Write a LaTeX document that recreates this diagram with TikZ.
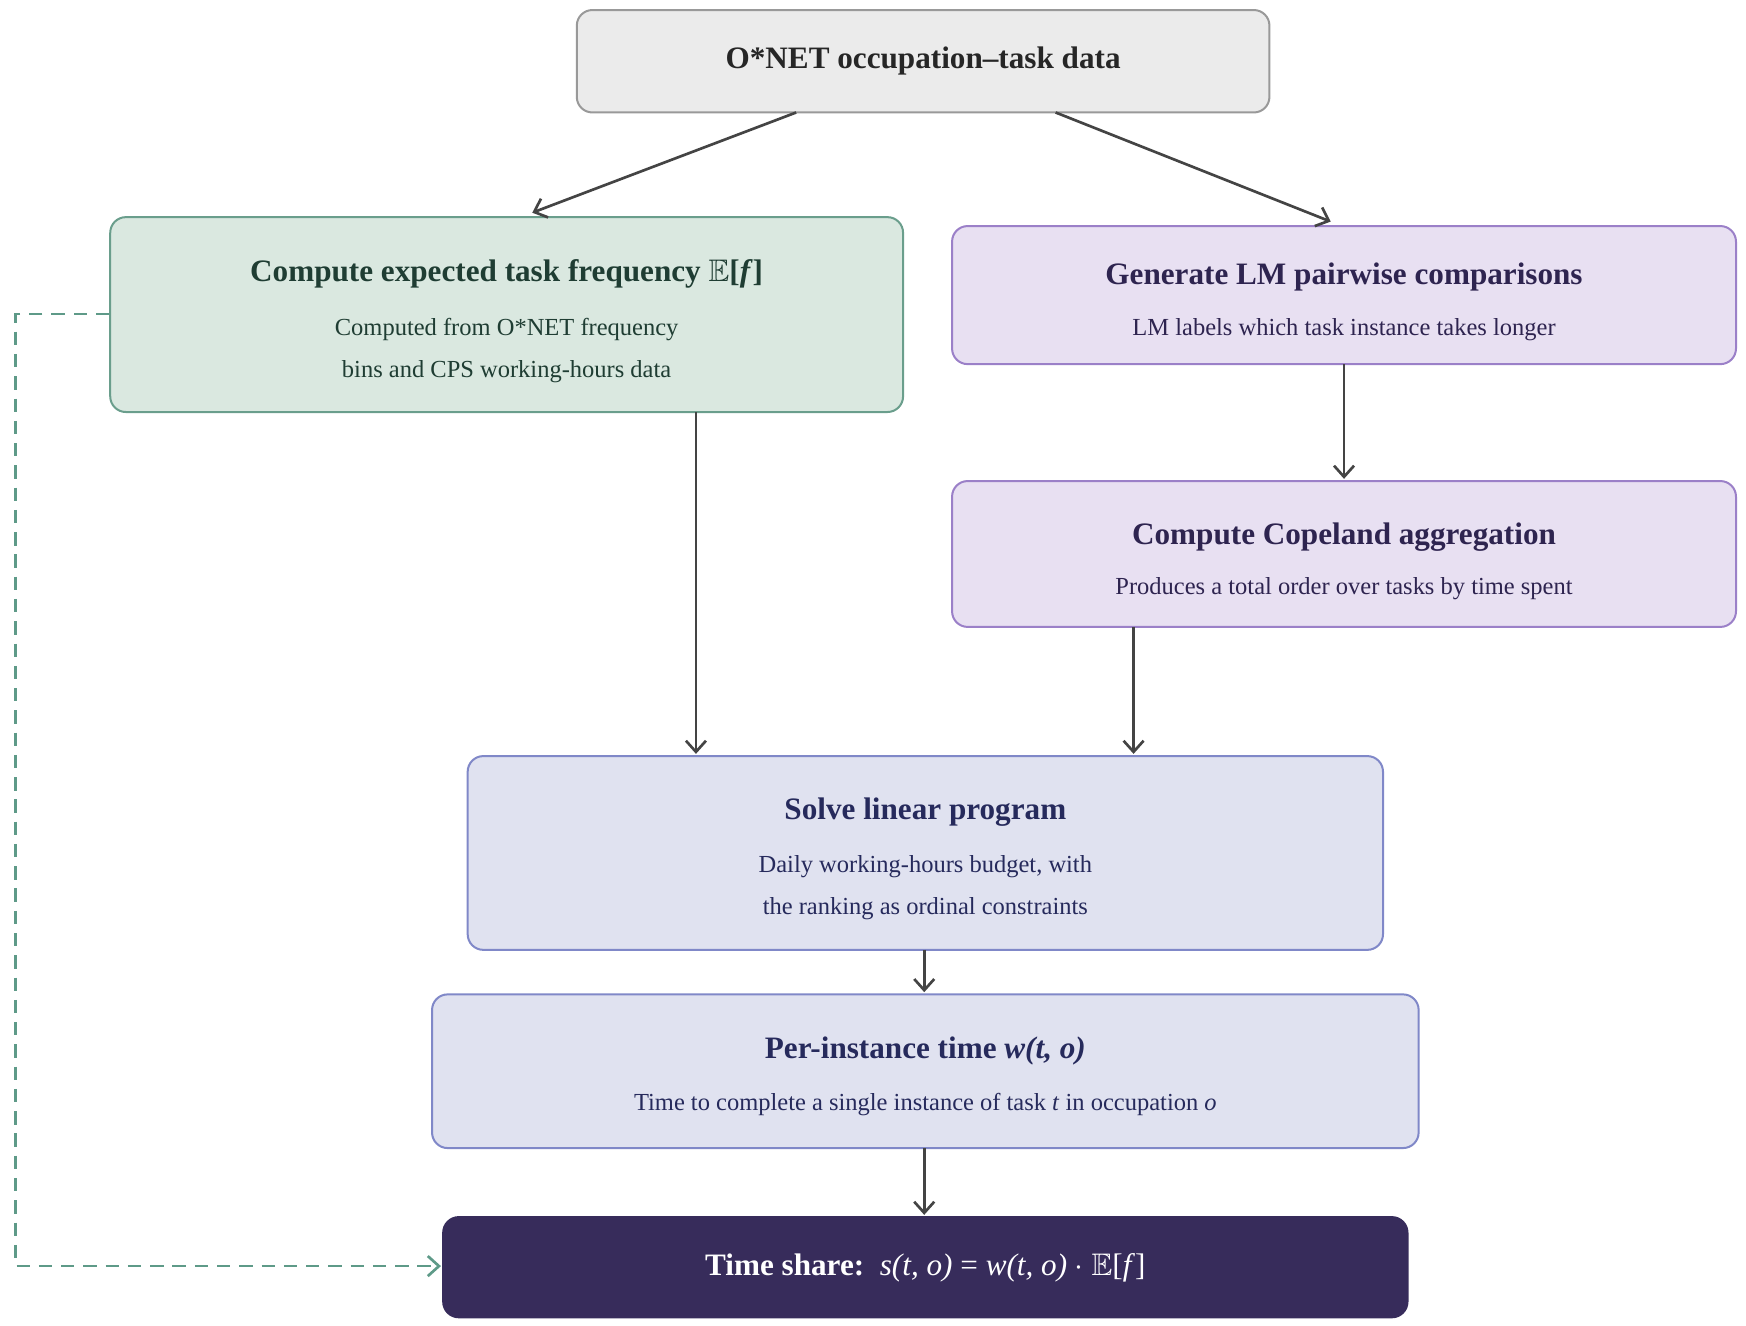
\documentclass[tikz,border=0pt]{standalone}
\usepackage{fontspec}
\setmainfont{Liberation Serif}
\usepackage{amssymb}
\usetikzlibrary{arrows.meta}
\definecolor{gfill}{HTML}{DAE8E0}\definecolor{gdraw}{HTML}{6A9E8C}\definecolor{gtext}{HTML}{1F3D33}
\definecolor{pfill}{HTML}{E8E0F2}\definecolor{pdraw}{HTML}{9B80C8}\definecolor{ptext}{HTML}{2E2450}
\definecolor{bfill}{HTML}{E0E2F0}\definecolor{bdraw}{HTML}{8088C8}\definecolor{btext}{HTML}{262A5C}
\definecolor{dark}{HTML}{372C5B}\definecolor{arr}{HTML}{444444}\definecolor{dashcol}{HTML}{5E9A88}
\tikzset{
 box/.style={rounded corners=7pt,line width=0.9pt,align=center,inner sep=0pt},
 ttl/.style={font=\fontsize{14}{17}\selectfont\bfseries},
 sub/.style={font=\fontsize{11}{19}\selectfont},
 ar/.style={-{Straight Barb[length=5pt,width=9pt]},line width=1.2pt,draw=arr},
}
\begin{document}
\begin{tikzpicture}[x=0.5pt,y=-0.5pt]
\useasboundingbox (0,0) rectangle (1568,1190);
\node[box,fill=black!8,draw=black!40,minimum width=311pt,minimum height=46pt] (top) at (829,55) {};
\node[ttl,text=black!85] at (top) {O*NET occupation–task data};
\node[box,fill=gfill,draw=gdraw,minimum width=356pt,minimum height=87.5pt] (g) at (455,282.5) {};
\node[ttl,text=gtext] at (455,246) {Compute expected task frequency $\mathbb{E}$[\textit{f}]};
\node[sub,text=gtext,align=center] at (455,315) {Computed from O*NET frequency\\bins and CPS working-hours data};
\node[box,fill=pfill,draw=pdraw,minimum width=352pt,minimum height=62pt] (p1) at (1207,265) {};
\node[ttl,text=ptext] at (1207,249) {Generate LM pairwise comparisons};
\node[sub,text=ptext] at (1207,296) {LM labels which task instance takes longer};
\node[box,fill=pfill,draw=pdraw,minimum width=352pt,minimum height=65.5pt] (p2) at (1207,497.5) {};
\node[ttl,text=ptext] at (1207,482) {Compute Copeland aggregation};
\node[sub,text=ptext] at (1207,529) {Produces a total order over tasks by time spent};
\node[box,fill=bfill,draw=bdraw,minimum width=411pt,minimum height=87pt] (lp) at (831,766) {};
\node[ttl,text=btext] at (831,729) {Solve linear program};
\node[sub,text=btext,align=center] at (831,797) {Daily working-hours budget, with\\the ranking as ordinal constraints};
\node[box,fill=bfill,draw=bdraw,minimum width=443pt,minimum height=69pt] (pi) at (831,962) {};
\node[ttl,text=btext] at (831,944) {Per-instance time \textit{w(t, o)}};
\node[sub,text=btext] at (831,992) {Time to complete a single instance of task \textit{t} in occupation \textit{o}};
\node[box,fill=dark,draw=dark,minimum width=433pt,minimum height=45pt] (ts) at (831,1138) {};
\node[ttl,text=white] at (831,1139) {Time share:\ \ \mdseries\textit{s(t, o)} = \textit{w(t, o)} $\cdot$ $\mathbb{E}$[\textit{f}]};
\draw[ar] (715,101) -- (478,191);
\draw[ar] (948,101) -- (1195,199);
\draw[ar] (625,370) -- (625,677);
\draw[ar] (1207,327) -- (1207,430);
\draw[ar] (1018,563) -- (1018,677);
\draw[ar] (830,853) -- (830,891);
\draw[ar] (830,1031) -- (830,1091);
\draw[draw=dashcol,line width=1.2pt,dash pattern=on 6pt off 4pt,-{Straight Barb[length=5pt,width=9pt]}] (g.west|-0,282) -- (14,282) -- (14,1137) -- (396,1137);
\end{tikzpicture}
\end{document}
